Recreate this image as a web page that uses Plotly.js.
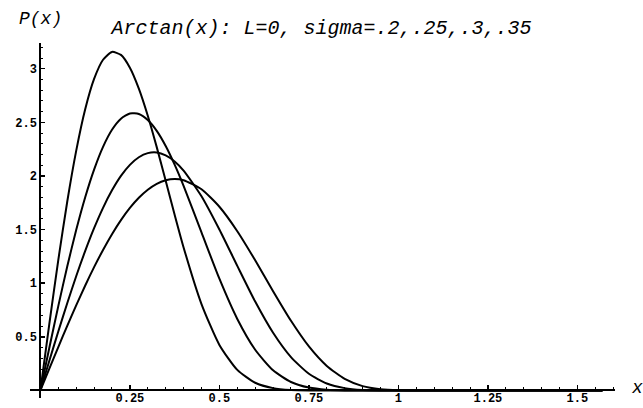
<!DOCTYPE html>
<html>
<head>
<meta charset="utf-8">
<script src="https://cdn.plot.ly/plotly-3.0.1.min.js"></script>
<style>html,body{margin:0;padding:0;background:#fff;}#chart{width:643px;height:408px;}</style>
</head>
<body>
<div id="chart"></div>
<script>
// x positions of the sampled points
const xs = [0, 0.025, 0.05, 0.075, 0.1, 0.125, 0.15, 0.175, 0.2, 0.225, 0.25, 0.275, 0.3, 0.325, 0.35, 0.375, 0.4,
            0.45, 0.5, 0.55, 0.6, 0.65, 0.7, 0.75, 0.8, 0.85, 0.9, 0.95, 1.0, 1.1, 1.2, 1.3, 1.4, 1.5, 1.57];
// P(x) for sigma = .2, .25, .3, .35
const p20 = [0, 0.621, 1.216, 1.760, 2.234, 2.620, 2.905, 3.084, 3.157, 3.129, 3.010, 2.815, 2.562, 2.269, 1.956, 1.639, 1.334,
             0.806, 0.425, 0.192, 0.072, 0.022, 0.005, 0.001, 0, 0, 0, 0, 0, 0, 0, 0, 0, 0, 0];
const p25 = [0, 0.398, 0.787, 1.156, 1.496, 1.800, 2.060, 2.272, 2.431, 2.534, 2.583, 2.578, 2.522, 2.421, 2.280, 2.106, 1.908,
             1.474, 1.042, 0.667, 0.380, 0.188, 0.079, 0.027, 0.007, 0.001, 0, 0, 0, 0, 0, 0, 0, 0, 0];
const p30 = [0, 0.277, 0.550, 0.814, 1.065, 1.299, 1.513, 1.703, 1.866, 2.001, 2.104, 2.175, 2.213, 2.219, 2.192, 2.136, 2.051,
             1.811, 1.501, 1.162, 0.829, 0.538, 0.311, 0.156, 0.065, 0.022, 0.005, 0.001, 0, 0, 0, 0, 0, 0, 0];
const p35 = [0, 0.204, 0.405, 0.603, 0.794, 0.977, 1.150, 1.310, 1.457, 1.588, 1.702, 1.797, 1.872, 1.927, 1.960, 1.972, 1.961,
             1.876, 1.713, 1.485, 1.214, 0.926, 0.650, 0.411, 0.229, 0.108, 0.041, 0.012, 0.002, 0, 0, 0, 0, 0, 0];
const seriesNames = ["sigma=.2", "sigma=.25", "sigma=.3", "sigma=.35"];

const xTickVals = [0.25, 0.5, 0.75, 1, 1.25, 1.5];
const xTickText = ["0.25", "0.5", "0.75", "1", "1.25", "1.5"];
const yTickVals = [0.5, 1, 1.5, 2, 2.5, 3];
const yTickText = ["0.5", "1", "1.5", "2", "2.5", "3"];

const titleText = "Arctan(x): L=0, sigma=.2,.25,.3,.35";
const yLabel = "P(x)";
const xLabel = "x";

const xRange = [-0.029, 1.605];
const yRange = [-0.07, 3.24];

const mono = "Liberation Mono, Courier New, monospace";

const traces = [p20, p25, p30, p35].map((ys, i) => ({
  x: xs, y: ys, name: seriesNames[i], type: "scatter", mode: "lines",
  line: {color: "#000", width: 2, shape: "spline", smoothing: 0.6},
  hoverinfo: "skip", cliponaxis: false
}));

const tickFont = {family: mono, size: 12, color: "#000", weight: "bold"};

const layout = {
  width: 643, height: 408,
  margin: {l: 30, r: 28, t: 43, b: 10, pad: 0},
  paper_bgcolor: "#fff", plot_bgcolor: "#fff",
  showlegend: false,
  title: {text: titleText, font: {family: mono, size: 20, color: "#000", style: "italic"},
          x: 0.5, xref: "container", xanchor: "center", y: 1 - 27 / 408, yref: "container", yanchor: "middle"},
  xaxis: {
    range: xRange, anchor: "free", position: (0 - yRange[0]) / (yRange[1] - yRange[0]),
    showline: true, linecolor: "#000", linewidth: 2,
    showgrid: false, zeroline: false,
    tickmode: "array", tickvals: xTickVals, ticktext: xTickText,
    ticks: "inside", ticklen: 4, tickwidth: 1.5, tickcolor: "#000",
    ticklabelstandoff: -4,
    minor: {tick0: 0, dtick: 0.05, ticks: "inside", ticklen: 2, tickwidth: 1, tickcolor: "#000", showgrid: false},
    tickfont: tickFont, automargin: false, fixedrange: true
  },
  yaxis: {
    range: yRange, anchor: "free", position: (0 - xRange[0]) / (xRange[1] - xRange[0]),
    showline: true, linecolor: "#000", linewidth: 2,
    showgrid: false, zeroline: false,
    tickmode: "array", tickvals: yTickVals, ticktext: yTickText,
    ticks: "inside", ticklen: 4, tickwidth: 1.5, tickcolor: "#000",
    minor: {tick0: 0, dtick: 0.1, ticks: "inside", ticklen: 2, tickwidth: 1, tickcolor: "#000", showgrid: false},
    tickfont: tickFont, automargin: false, fixedrange: true
  },
  annotations: [
    {text: yLabel, xref: "paper", yref: "paper", x: (40 - 30) / 585, y: (398 - 19) / 355,
     xanchor: "center", yanchor: "middle", showarrow: false,
     font: {family: mono, size: 18, color: "#000", style: "italic"}},
    {text: xLabel, xref: "paper", yref: "paper", x: (637 - 30) / 585, y: (398 - 388) / 355,
     xanchor: "center", yanchor: "middle", showarrow: false,
     font: {family: mono, size: 18, color: "#000", style: "italic"}}
  ]
};

Plotly.newPlot("chart", traces, layout, {staticPlot: true, displayModeBar: false});
</script>
</body>
</html>
